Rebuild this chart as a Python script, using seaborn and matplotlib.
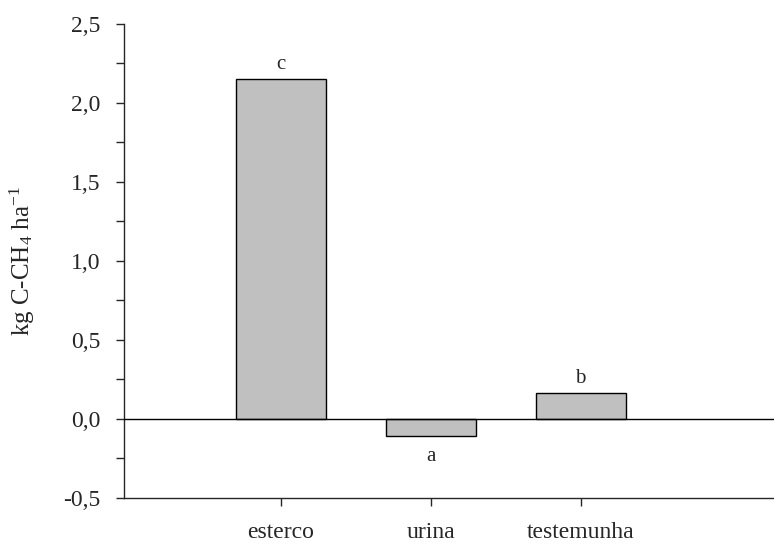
import matplotlib
matplotlib.use("Agg")
import matplotlib.pyplot as plt
import matplotlib.ticker as mticker
import seaborn as sns
import pandas as pd

# data
tratamentos = ["esterco", "urina", "testemunha"]
ch4 = [2.15, -0.11, 0.165]
letras = ["c", "a", "b"]

df = pd.DataFrame({"tratamento": tratamentos, "ch4": ch4})

sns.set_style("ticks")
plt.rcParams["font.family"] = ["Liberation Serif", "DejaVu Serif"]
plt.rcParams["mathtext.fontset"] = "custom"
plt.rcParams["mathtext.rm"] = "Liberation Serif"
plt.rcParams["mathtext.it"] = "Liberation Serif:italic"

fig = plt.figure(figsize=(7.74, 5.44), dpi=100)
ax = fig.add_axes([0.160, 0.0846, 0.840, 0.872])

sns.barplot(data=df, x="tratamento", y="ch4", color="#c0c0c0",
            edgecolor="black", linewidth=1.0, width=0.6, saturation=1, ax=ax)

# zero reference line
ax.axhline(0, color="black", linewidth=1.0, zorder=3)

# significance letters
for i, (v, l) in enumerate(zip(ch4, letras)):
    if v >= 0:
        ax.text(i, v + 0.03, l, ha="center", va="bottom", fontsize=15)
    else:
        ax.text(i, v - 0.07, l, ha="center", va="top", fontsize=15)

ax.set_xlim(-1.047, 3.29)
ax.set_ylim(-0.5, 2.5)
ax.yaxis.set_major_locator(mticker.MultipleLocator(0.5))
ax.yaxis.set_minor_locator(mticker.MultipleLocator(0.25))
ax.yaxis.set_major_formatter(mticker.FuncFormatter(lambda v, p: f"{v:.1f}".replace(".", ",")))
ax.tick_params(axis="both", which="major", labelsize=17, length=6, width=1.0, direction="out")
ax.tick_params(axis="y", which="minor", length=6, width=1.0, direction="out")
ax.tick_params(axis="x", pad=11)
ax.tick_params(axis="y", pad=11)

ax.set_xlabel("")
ax.set_ylabel("kg C-CH$_4$ ha$^{-1}$", fontsize=18, labelpad=19)

sns.despine(ax=ax)
for s in ["left", "bottom"]:
    ax.spines[s].set_linewidth(1.0)

fig.savefig("out.png", dpi=100)
